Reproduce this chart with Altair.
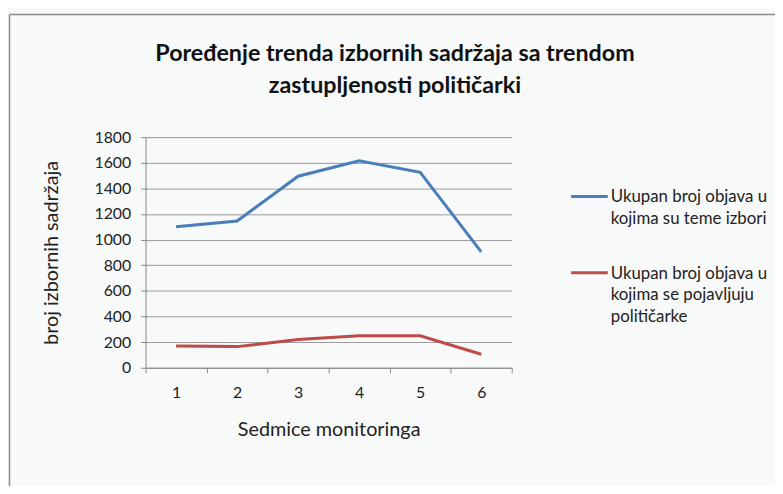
import altair as alt
import pandas as pd

weeks = [1, 2, 3, 4, 5, 6]
series_names = [
    "Ukupan broj objava u\nkojima su teme izbori",
    "Ukupan broj objava u\nkojima se pojavljuju\npolitičarke",
]
izbori = [1100, 1145, 1495, 1615, 1525, 905]
politicarke = [170, 165, 220, 250, 250, 105]
colors = ["#4a7ebb", "#be4b48"]
y_ticks = [0, 200, 400, 600, 800, 1000, 1200, 1400, 1600, 1800]
title_lines = ["Poređenje trenda izbornih sadržaja sa trendom", "zastupljenosti političarki"]

FONT = "Lato"
W, H = 370, 233

rows = []
for w, a, b in zip(weeks, izbori, politicarke):
    rows.append({"week": str(w), "value": a, "series": series_names[0]})
    rows.append({"week": str(w), "value": b, "series": series_names[1]})
df = pd.DataFrame(rows)

lines = alt.Chart(df).mark_line(strokeWidth=3).encode(
    x=alt.X(
        "week:O",
        scale=alt.Scale(type="band", paddingInner=0, paddingOuter=0),
        axis=alt.Axis(
            title="Sedmice monitoringa",
            labelAngle=0,
            tickBand="extent",
            tickSize=5,
            labelPadding=12,
            grid=False,
            titleX=W / 2,
            titleY=62,
            titleBaseline="middle",
            titleAnchor="middle",
            titleAlign="center",
        ),
    ),
    y=alt.Y(
        "value:Q",
        scale=alt.Scale(domain=[0, 1800], nice=False),
        axis=alt.Axis(
            title="broj izbornih sadržaja",
            values=y_ticks,
            format="d",
            tickSize=5,
            labelPadding=10,
            grid=True,
            titleX=-95,
            titleY=H / 2,
            titleAngle=-90,
            titleBaseline="middle",
            titleAlign="center",
        ),
    ),
    color=alt.Color(
        "series:N",
        scale=alt.Scale(domain=series_names, range=colors),
        legend=None,
    ),
)

legend_df = pd.DataFrame({"series": series_names, "color": colors})
legend_layers = []
sym_y = [60, 137]
for name, col, yy in zip(series_names, colors, sym_y):
    d = legend_df[legend_df["series"] == name]
    legend_layers.append(
        alt.Chart(d).mark_rule(strokeWidth=3, color=col).encode(
            x=alt.value(430), x2=alt.value(467), y=alt.value(yy)
        )
    )
    legend_layers.append(
        alt.Chart(d).mark_text(
            align="left", baseline="line-top", lineBreak="\n", lineHeight=22,
            font=FONT, fontSize=17, color="#222222"
        ).encode(x=alt.value(470), y=alt.value(yy - 10), text="series:N")
    )

title_df = pd.DataFrame({"t": ["\n".join(title_lines)]})
title_layer = alt.Chart(title_df).mark_text(
    align="center", baseline="line-top", lineBreak="\n", lineHeight=32,
    font=FONT, fontSize=23.5, fontWeight="bold", color="#111111"
).encode(x=alt.value(252), y=alt.value(-100), text="t:N")

frame_df = pd.DataFrame({"f": [0]})
frame_left = alt.Chart(frame_df).mark_rule(color="#8c8c8c", strokeWidth=1.5).encode(
    x=alt.value(-137.5), y=alt.value(-124), y2=alt.value(360)
)
frame_top = alt.Chart(frame_df).mark_rule(color="#8c8c8c", strokeWidth=1.5).encode(
    x=alt.value(-137.5), x2=alt.value(640), y=alt.value(-124)
)

chart = alt.layer(frame_left, frame_top, lines, title_layer, *legend_layers).properties(
    width=W,
    height=H,
    autosize=alt.AutoSizeParams(type="none"),
    padding={"left": 139, "top": 128, "right": 266, "bottom": 117},
    background="#f8f9f9",
).configure_view(stroke=None).configure_axis(
    labelFont=FONT,
    titleFont=FONT,
    labelFontSize=16,
    titleFontSize=20,
    titleFontWeight="normal",
    labelColor="#222222",
    titleColor="#222222",
    domainColor="#8a8a8a",
    tickColor="#8a8a8a",
    gridColor="#9a9a9a",
    gridWidth=1,
)

chart.save("out.html", embed_options={"renderer": "svg", "actions": False})
